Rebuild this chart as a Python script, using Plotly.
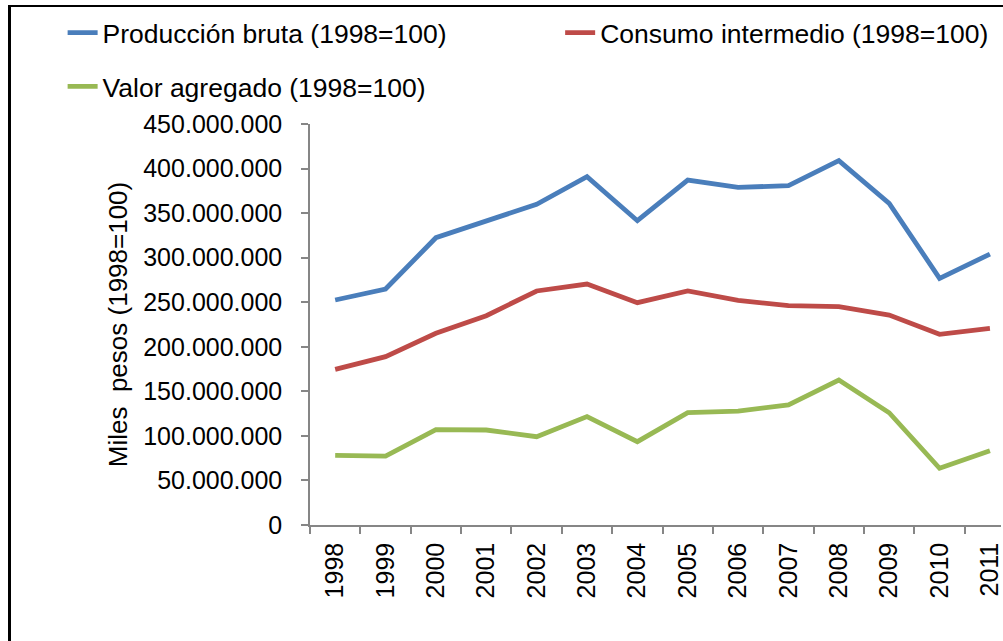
import plotly.graph_objects as go

years = [str(y) for y in range(1998, 2012)]

produccion = [252.5e6, 264.8e6, 322.4e6, 341.0e6, 359.9e6, 390.8e6, 341.5e6,
              387.1e6, 378.9e6, 380.8e6, 408.8e6, 361.0e6, 276.8e6, 304.0e6]
consumo = [174.7e6, 188.9e6, 215.1e6, 234.9e6, 262.6e6, 270.4e6, 249.5e6,
           262.6e6, 252.0e6, 246.1e6, 245.0e6, 235.6e6, 214.0e6, 220.7e6]
valor = [78.2e6, 77.4e6, 107.0e6, 106.6e6, 99.1e6, 121.6e6, 93.5e6,
         126.0e6, 127.9e6, 134.7e6, 162.7e6, 126.0e6, 63.6e6, 83.4e6]

names = ["Producción bruta (1998=100)", "Consumo intermedio (1998=100)", "Valor agregado (1998=100)"]
colors = ["#4A7EBB", "#BE4B48", "#98B954"]

font = "Liberation Sans, Arial, sans-serif"
axis_color = "#868686"

fig = go.Figure()
for vals, name, color, leg in zip([produccion, consumo, valor], names, colors,
                                  ["legend", "legend2", "legend3"]):
    fig.add_trace(go.Scatter(x=years, y=vals, name=name, mode="lines", showlegend=True,
                             line=dict(color=color, width=4.8), legend=leg))

leg_common = dict(font=dict(family=font, size=26.5, color="black"),
                  bgcolor="rgba(0,0,0,0)", xanchor="left", yanchor="middle")

# plot area spans x 310..1003 px (693 px), y 124..525 px
fig.update_layout(
    width=1003, height=641,
    margin=dict(l=310, r=0, t=124, b=116),
    paper_bgcolor="white", plot_bgcolor="white",
    separators=",.",
    showlegend=True,
    font=dict(family=font, size=25, color="black"),
    legend=dict(x=-0.358, y=1.227, **leg_common),
    legend2=dict(x=0.362, y=1.227, **leg_common),
    legend3=dict(x=-0.358, y=1.093, **leg_common),
    xaxis=dict(type="category", range=[-0.5, 13.22], tickangle=-90,
               showline=True, linecolor=axis_color, linewidth=1.5,
               ticks="outside", ticklen=7, tickcolor=axis_color, tickwidth=1.5,
               tickson="boundaries", showgrid=False, ticklabelstandoff=6,
               tickfont=dict(family=font, size=25, color="black")),
    yaxis=dict(range=[0, 450e6], dtick=50e6, tickformat=",.0f",
               showline=True, linecolor=axis_color, linewidth=1.5,
               ticks="outside", ticklen=7, tickcolor=axis_color, tickwidth=1.5,
               showgrid=False, zeroline=False, ticklabelstandoff=14,
               tickfont=dict(family=font, size=25, color="black"),
               title=dict(text="Miles\u00a0 pesos (1998=100)", standoff=8,
                          font=dict(family=font, size=26, color="black"))),
)

# outer chart frame (top and left edges) drawn as an overlay on the page
frame_js = """
document.body.style.margin = '0';
document.body.style.overflow = 'hidden';
var frame = document.createElement('div');
frame.style.cssText = 'position:absolute;left:8px;top:5px;width:1200px;height:800px;' +
    'border-top:2px solid black;border-left:3px solid black;pointer-events:none;';
document.body.appendChild(frame);
"""

fig.write_html("out.html", config={"displayModeBar": False}, post_script=frame_js)
